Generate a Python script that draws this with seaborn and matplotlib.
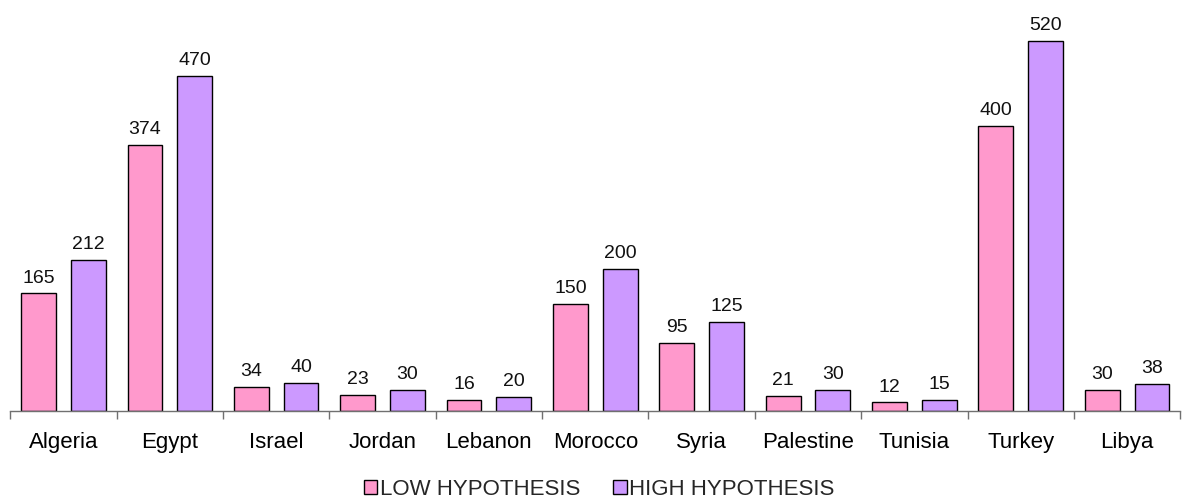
import matplotlib
matplotlib.use("Agg")
import matplotlib.pyplot as plt
from matplotlib.patches import Patch
import seaborn as sns
import pandas as pd

countries = ["Algeria", "Egypt", "Israel", "Jordan", "Lebanon", "Morocco",
             "Syria", "Palestine", "Tunisia", "Turkey", "Libya"]
low_values = [165, 374, 34, 23, 16, 150, 95, 21, 12, 400, 30]
high_values = [212, 470, 40, 30, 20, 200, 125, 30, 15, 520, 38]
series_names = ["LOW HYPOTHESIS", "HIGH HYPOTHESIS"]
series_colors = ["#FF99CC", "#CC99FF"]

df = pd.DataFrame({
    "country": countries * 2,
    "value": low_values + high_values,
    "series": [series_names[0]] * len(countries) + [series_names[1]] * len(countries),
})

sns.set_theme(style="white")
plt.rcParams["font.family"] = ["Liberation Sans", "DejaVu Sans"]

fig = plt.figure(figsize=(11.82, 5.0), dpi=100)
ax = fig.add_axes([10.3 / 1182, 89 / 500, 1170 / 1182, 411 / 500])

sns.barplot(data=df, x="country", y="value", hue="series", order=countries,
            hue_order=series_names, palette=series_colors, width=0.935, gap=0.3,
            edgecolor="black", linewidth=1.0, saturation=1, legend=False, ax=ax)

for cont in ax.containers:
    ax.bar_label(cont, fmt="%d", padding=5, fontsize=14, color="#111111")

ax.set_xlim(-0.5, len(countries) - 0.5)
ax.set_ylim(0, 577)
ax.set_xlabel("")
ax.set_ylabel("")
ax.set_yticks([])
for side in ["left", "right", "top"]:
    ax.spines[side].set_visible(False)
ax.spines["bottom"].set_color("#707070")
ax.spines["bottom"].set_linewidth(1.0)

# category labels at centers, tick marks at boundaries
ax.set_xticks(range(len(countries)))
ax.set_xticklabels(countries, fontsize=16, color="black")
ax.tick_params(axis="x", which="major", length=0, pad=15)
ax.set_xticks([i - 0.5 for i in range(len(countries) + 1)], minor=True)
ax.tick_params(axis="x", which="minor", length=6, width=1.0, color="#707070",
               bottom=True, direction="out")

handles = [Patch(facecolor=c, edgecolor="black", linewidth=1.0) for c in series_colors]
fig.legend(handles, series_names, loc="lower center", bbox_to_anchor=(0.507, -0.04),
           ncol=2, frameon=False, fontsize=16, handlelength=0.6, handleheight=0.6,
           handletextpad=0.12, columnspacing=1.5)

fig.savefig("out.png", dpi=100)
